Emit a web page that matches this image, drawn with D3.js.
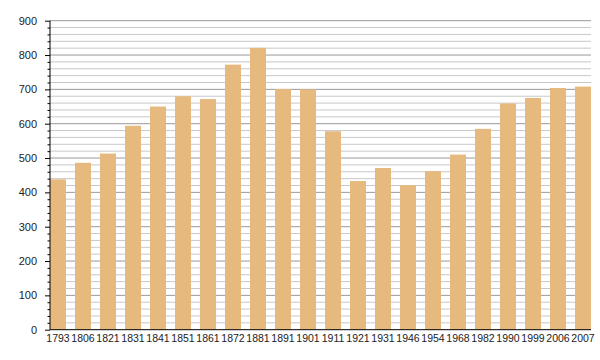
<!DOCTYPE html>
<html>
<head>
<meta charset="utf-8">
<script src="https://cdn.jsdelivr.net/npm/d3@7"></script>
<style>
  body { margin: 0; background: #fff; }
  text { font-family: "Liberation Sans", Arial, sans-serif; }
</style>
</head>
<body>
<svg id="chart" width="600" height="360"></svg>
<script>
// Population by census year
const years = ['1793', '1806', '1821', '1831', '1841', '1851', '1861', '1872', '1881', '1891', '1901',
  '1911', '1921', '1931', '1946', '1954', '1968', '1982', '1990', '1999', '2006', '2007'];
const population = [438, 486, 513, 594, 650, 680, 672, 772, 821, 701, 700,
  578, 433, 471, 421, 462, 510, 585, 659, 675, 704, 708];
const yTicks = [0, 100, 200, 300, 400, 500, 600, 700, 800, 900];

const padding = { top: 20.7, left: 50, right: 9, bottom: 30.3 };
const svg = d3.select('#chart');
const width = 600, height = 360;

const x = d3.scaleBand()
  .domain(years)
  .range([padding.left, width - padding.right])
  .paddingInner(0.36)
  .paddingOuter(0);

const y = d3.scaleLinear()
  .domain([0, 900])
  .range([height - padding.bottom, padding.top]);

// Minor gridlines every 20, major every 100
const minor = d3.range(0, 901, 20).filter((d) => d % 100 !== 0);
svg.append('g')
  .selectAll('line')
  .data(minor)
  .join('line')
  .attr('x1', padding.left)
  .attr('x2', width - padding.right)
  .attr('y1', (d) => y(d))
  .attr('y2', (d) => y(d))
  .attr('stroke', '#c8c8c8')
  .attr('stroke-width', 1);

svg.append('g')
  .selectAll('line')
  .data(yTicks.slice(1))
  .join('line')
  .attr('x1', padding.left)
  .attr('x2', width - padding.right)
  .attr('y1', (d) => y(d))
  .attr('y2', (d) => y(d))
  .attr('stroke', '#999')
  .attr('stroke-width', 1);

// Bars
svg.append('g')
  .selectAll('rect')
  .data(population)
  .join('rect')
  .attr('x', (d, i) => x(years[i]))
  .attr('y', (d) => y(d))
  .attr('width', x.bandwidth())
  .attr('height', (d) => y(0) - y(d))
  .attr('fill', '#e6b97e');

// Y axis: major ticks with labels, minor ticks without
const yAxis = svg.append('g').attr('transform', `translate(${padding.left},0)`);
yAxis.call(d3.axisLeft(y).tickValues(minor).tickSize(2.5).tickFormat(''))
  .call((g) => g.select('.domain').remove());
yAxis.append('g').call(d3.axisLeft(y).tickValues(yTicks).tickSize(5).tickPadding(8).tickFormat(d3.format('d')))
  .call((g) => g.select('.domain').attr('d', `M0,${y(0)}V${y(900)}`));
yAxis.selectAll('line').attr('stroke', '#000');
yAxis.selectAll('text').attr('font-size', 11).attr('fill', '#222')
  .attr('font-family', '"Liberation Sans", Arial, sans-serif');

// X axis
const xAxis = svg.append('g').attr('transform', `translate(0,${y(0)})`);
xAxis.call(d3.axisBottom(x).tickSize(0).tickPadding(5))
  .call((g) => g.select('.domain').attr('d', `M${padding.left},0H${width - padding.right}`).attr('stroke', '#000'));
xAxis.selectAll('text').attr('font-size', 10.5).attr('fill', '#222')
  .attr('font-family', '"Liberation Sans", Arial, sans-serif');
</script>
</body>
</html>
